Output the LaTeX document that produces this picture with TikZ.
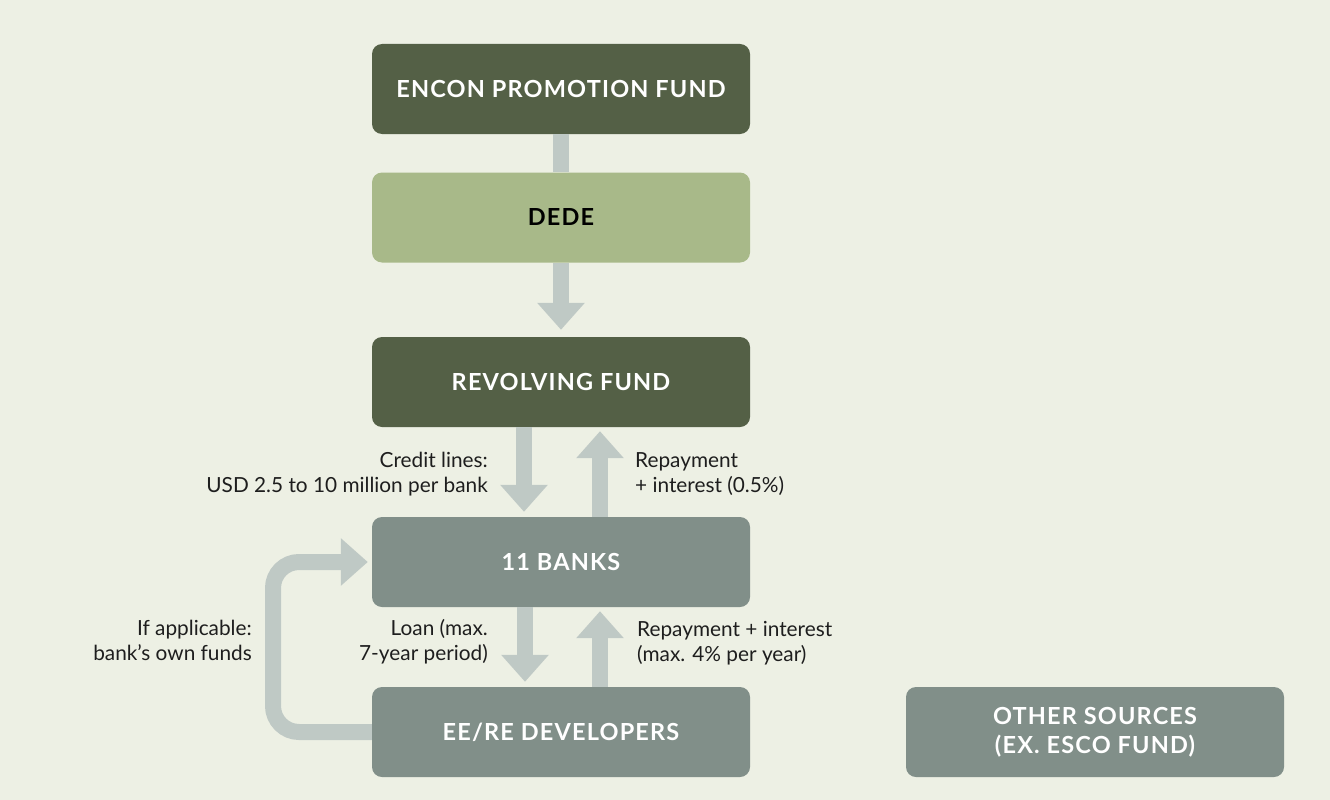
\documentclass[tikz,border=0pt]{standalone}
\usepackage{fontspec}
\setmainfont{Lato}
\newfontfamily\boxfont[LetterSpace=5]{Lato}
\usetikzlibrary{arrows.meta}
\definecolor{bgc}{HTML}{EDF0E4}
\definecolor{darkbox}{HTML}{546046}
\definecolor{lightbox}{HTML}{A8B989}
\definecolor{greybox}{HTML}{818F89}
\definecolor{flowc}{HTML}{BFC9C5}
\definecolor{txt}{HTML}{1E1E1E}
\begin{document}
\begin{tikzpicture}[x=1pt,y=-1pt,
  box/.style={rounded corners=10pt, minimum width=378pt, minimum height=90pt,
    inner sep=0pt, align=center, font=\boxfont\bfseries\fontsize{23.5}{29}\selectfont},
  darkstyle/.style={box, fill=darkbox, text=white},
  lightstyle/.style={box, fill=lightbox, text=black},
  greystyle/.style={box, fill=greybox, text=white},
  flow/.style={draw=flowc, line width=16pt},
  flowarrow/.style={flow, -{Triangle[width=46pt,length=27pt]}},
  lbl/.style={inner sep=0pt, text=txt, font=\fontsize{20.8}{25}\selectfont}
]
\fill[bgc] (0,0) rectangle (1330,800);
\useasboundingbox (0,0) rectangle (1330,800);

% boxes
\node[darkstyle]  (encon) at (561,89)   {ENCON PROMOTION FUND};
\node[lightstyle] (dede)  at (561,217.5) {DEDE};
\node[darkstyle]  (rev)   at (561,382)  {REVOLVING FUND};
\node[greystyle]  (banks) at (561,562)  {11 BANKS};
\node[greystyle]  (dev)   at (561,732)  {EE/RE DEVELOPERS};
\node[greystyle]  (other) at (1095,732) {OTHER SOURCES\\(EX. ESCO FUND)};

% connectors
\draw[flow] (encon.south) -- (dede.north);
\draw[flowarrow, shorten >=7pt] (dede.south) -- (rev.north);
\draw[flowarrow, shorten >=5pt] ([xshift=-37pt]rev.south) -- ([xshift=-37pt]banks.north);
\draw[flowarrow, shorten >=4pt] ([xshift=39pt]banks.north) -- ([xshift=39pt]rev.south);
\draw[flowarrow, shorten >=5pt] ([xshift=-36pt]banks.south) -- ([xshift=-36pt]dev.north);
\draw[flowarrow, shorten >=4pt] ([xshift=39pt]dev.north) -- ([xshift=39pt]banks.south);
\coordinate (loopx) at (273,0);
\draw[flowarrow, shorten >=4pt, rounded corners=26pt]
  (dev.west) -- (dev.west -| loopx) -- (banks.west -| loopx) -- (banks.west);

% labels (anchored at the baseline of the last line)
\node[lbl, anchor=base east, align=right] (l1) at (488,492) {Credit lines:\\USD 2.5 to 10 million per bank};
\node[lbl, anchor=base west, align=left]  (l2) at (635,492) {Repayment\\+ interest (0.5\%)};
\node[lbl, anchor=base east, align=right] (l3) at (252,660) {If applicable:\\bank’s own funds};
\node[lbl, anchor=base east, align=right] (l4) at (488,660) {Loan (max.\\7-year period)};
\node[lbl, anchor=base west, align=left]  (l5) at (637,661) {Repayment + interest\\(max. 4\% per year)};
\end{tikzpicture}
\end{document}
